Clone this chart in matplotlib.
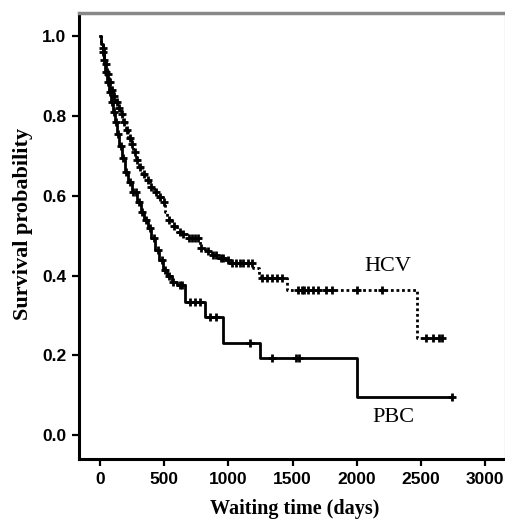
import matplotlib
matplotlib.use("Agg")
import matplotlib.pyplot as plt
import numpy as np

# HCV Kaplan-Meier step data (time in days, survival after step)
hcv_times = [0, 10, 20, 30, 40, 55, 70, 85, 100, 120, 140, 160, 180, 200, 220, 240, 260, 280,
             300, 330, 360, 390, 420, 450, 490, 510, 525, 560, 600, 640, 680, 775, 820, 870,
             920, 980, 1010, 1190, 1235, 1250, 1460, 2470]
hcv_surv = [1.0, 0.985, 0.97, 0.95, 0.93, 0.905, 0.885, 0.865, 0.85, 0.835, 0.82, 0.805, 0.785,
            0.765, 0.745, 0.73, 0.71, 0.69, 0.672, 0.655, 0.64, 0.622, 0.61, 0.598, 0.584, 0.56,
            0.54, 0.525, 0.51, 0.503, 0.494, 0.47, 0.462, 0.452, 0.445, 0.44, 0.431, 0.42, 0.40,
            0.393, 0.363, 0.243]
hcv_end = 2660
hcv_censor = [25, 45, 60, 80, 95, 110, 130, 150, 170, 190, 210, 230, 250, 270, 290, 310, 340,
              370, 400, 440, 470, 500, 540, 580, 620, 650, 690, 720, 740, 760, 790, 840, 880,
              900, 940, 960, 1000, 1030, 1060, 1090, 1110, 1150, 1180, 1260, 1300, 1340, 1380,
              1420, 1540, 1570, 1590, 1620, 1660, 1700, 1760, 1810, 2000, 2200, 2540, 2590,
              2640, 2660]

# PBC Kaplan-Meier step data
pbc_times = [0, 10, 20, 30, 40, 55, 70, 85, 100, 115, 130, 150, 170, 195, 220, 250, 290, 320,
             345, 370, 400, 430, 460, 490, 520, 560, 600, 660, 815, 960, 1245, 2000]
pbc_surv = [1.0, 0.98, 0.96, 0.94, 0.91, 0.885, 0.86, 0.835, 0.81, 0.785, 0.755, 0.725, 0.695,
            0.66, 0.635, 0.61, 0.584, 0.56, 0.54, 0.52, 0.495, 0.465, 0.44, 0.415, 0.40, 0.385,
            0.376, 0.333, 0.296, 0.231, 0.193, 0.095]
pbc_end = 2740
pbc_censor = [20, 35, 50, 65, 80, 95, 110, 125, 140, 160, 180, 200, 230, 260, 280, 300, 330,
              360, 390, 420, 450, 480, 510, 540, 570, 620, 640, 700, 740, 780, 860, 900, 1170,
              1340, 1530, 1550, 2740]

xticks = [0, 500, 1000, 1500, 2000, 2500, 3000]
yticks = [0.0, 0.2, 0.4, 0.6, 0.8, 1.0]


def step_value(times, surv, t):
    idx = np.searchsorted(times, t, side="right") - 1
    return np.asarray(surv)[idx]


fig = plt.figure(figsize=(5.06, 5.2), dpi=100)
ax = fig.add_axes([0.156, 0.117, 0.842, 0.858])

serif = ["Liberation Serif", "DejaVu Serif"]
sans = ["Liberation Sans", "DejaVu Sans"]

# HCV curve (dotted)
hx = list(hcv_times) + [hcv_end]
hy = list(hcv_surv) + [hcv_surv[-1]]
ax.step(hx, hy, where="post", color="black", lw=2.0, ls=(0, (1, 1)))
ax.plot(hcv_censor, step_value(hcv_times, hcv_surv, hcv_censor), ls="none", marker="+",
        color="black", ms=5.5, mew=2.0)

# PBC curve (solid)
px = list(pbc_times) + [pbc_end]
py = list(pbc_surv) + [pbc_surv[-1]]
ax.step(px, py, where="post", color="black", lw=2.0)
ax.plot(pbc_censor, step_value(pbc_times, pbc_surv, pbc_censor), ls="none", marker="+",
        color="black", ms=5.5, mew=2.0)

ax.text(2243, 0.424, "HCV", family=serif, fontsize=16, ha="center", va="center")
ax.text(2282, 0.045, "PBC", family=serif, fontsize=16, ha="center", va="center")

ax.set_xlim(-164, 3154)
ax.set_ylim(-0.06, 1.058)
ax.set_xticks(xticks)
ax.set_yticks(yticks)
ax.set_xticklabels([str(t) for t in xticks], family=sans, fontweight="bold", fontsize=12.5)
ax.set_yticklabels([f"{t:.1f}" for t in yticks], family=sans, fontweight="bold", fontsize=12.5)
ax.tick_params(direction="out", length=5, width=1.6, pad=4)

ax.set_xlabel("Waiting time (days)", family=serif, fontweight="bold", fontsize=14.5)
ax.set_ylabel("Survival probability", family=serif, fontweight="bold", fontsize=16)
ax.xaxis.set_label_coords(0.507, -0.090)
ax.yaxis.set_label_coords(-0.108, 0.527)

for s in ["left", "bottom"]:
    ax.spines[s].set_linewidth(2.2)
ax.spines["top"].set_color("#888888")
ax.spines["top"].set_linewidth(2.5)
ax.spines["right"].set_color("#cccccc")
ax.spines["right"].set_linewidth(1.0)

fig.savefig("out.png", dpi=100)
